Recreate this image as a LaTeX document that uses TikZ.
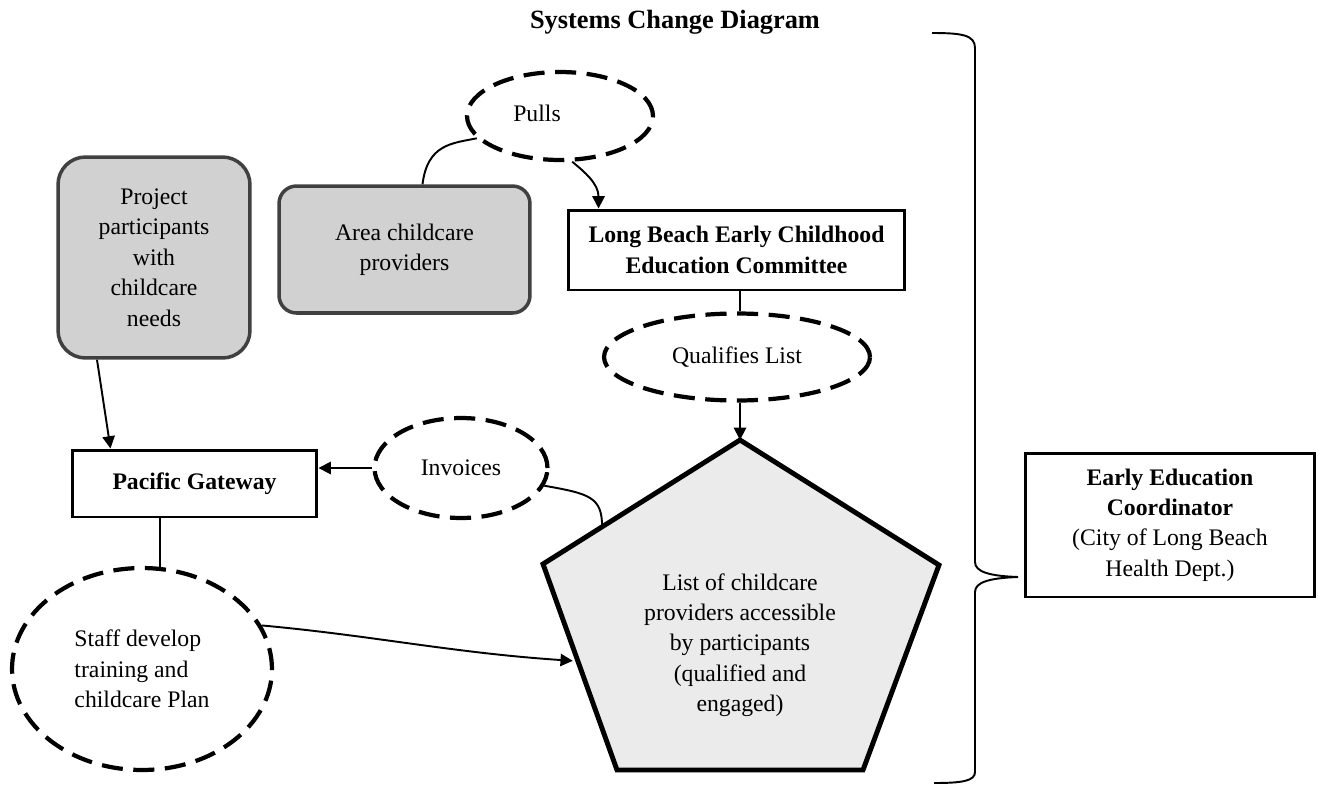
\documentclass[tikz,border=0pt]{standalone}
\usepackage{fontspec}
\setmainfont{Liberation Serif}
\usetikzlibrary{shapes.geometric,arrows.meta,calc}
\newcommand{\diagfont}{\fontsize{13.5}{17.3}\selectfont}
\tikzset{
  every node/.style={font=\diagfont},
  roundbox/.style={draw=black!75, line width=2pt, fill=black!18, rounded corners=0.5cm, align=center, inner sep=0pt},
  plainbox/.style={draw, line width=1.7pt, align=center, inner sep=0pt},
  dashoval/.style={ellipse, draw, line width=2.4pt, dash pattern=on 12pt off 6pt, inner sep=0pt},
  link/.style={line width=1.1pt},
  arrowlink/.style={link, -{Triangle[length=7pt,width=7pt]}}
}
\begin{document}
\begin{tikzpicture}[x=0.02cm, y=-0.02cm]
    \useasboundingbox (0,0) rectangle (1318,785);
    \node[font=\fontsize{15}{18}\selectfont\bfseries] (title) at (675,22) {Systems Change Diagram};

    % boxes
    \node[roundbox, rounded corners=0.55cm, minimum width=3.84cm, minimum height=4.02cm] (proj) at (154,257.5) {Project\\participants\\with\\childcare\\needs};
    \node[roundbox, rounded corners=0.35cm, minimum width=5.02cm, minimum height=2.54cm] (area) at (404.5,249.5) {Area childcare\\providers};
    \node[plainbox, font=\diagfont\bfseries, minimum width=6.74cm, minimum height=1.6cm] (lbecec) at (736.5,250) {Long Beach Early Childhood\\Education Committee};
    \node[plainbox, font=\diagfont\bfseries, minimum width=4.9cm, minimum height=1.34cm] (pg) at (194.5,483.5) {Pacific Gateway};
    \node[plainbox, minimum width=5.8cm, minimum height=2.88cm] (eec) at (1170,525) {\textbf{Early Education}\\\textbf{Coordinator}\\(City of Long Beach\\Health Dept.)};

    % dashed ovals
    \node[dashoval, minimum width=3.72cm, minimum height=1.76cm] (pulls) at (560,116) {};
    \node (pullstext) at (537,113) {Pulls};
    \node[dashoval, minimum width=5.32cm, minimum height=1.74cm] (qual) at (737,357) {Qualifies List};
    \node[dashoval, minimum width=3.46cm, minimum height=2cm] (inv) at (461,468) {Invoices};
    \node[dashoval, align=left, minimum width=5.2cm, minimum height=4.04cm] (staff) at (142,669) {Staff develop\\training and\\childcare Plan};

    % pentagon
    \coordinate (top) at (740,440);
    \coordinate (pl) at (543,564);
    \coordinate (pbl) at (617,770);
    \coordinate (pbr) at (863,770);
    \coordinate (pr) at (939,565);
    \draw[line width=2.8pt, fill=black!8] (top) -- (pr) -- (pbr) -- (pbl) -- (pl) -- cycle;
    \node[align=center] (list) at (740,645) {List of childcare\\providers accessible\\by participants\\(qualified and\\engaged)};
    \coordinate (edge) at ($(pl)!0.3!(top)$);
    \coordinate (entry) at ($(pl)!0.47!(pbl)+(-5,0)$);

    % brace
    \draw[link] (932,33) .. controls (962,33) and (975,35) .. (975,48) -- (975,562)
        .. controls (975,572) and (990,576) .. (1018,577)
        .. controls (990,578) and (975,582) .. (975,592) -- (975,772)
        .. controls (975,781) and (962,783) .. (934,783);

    % connectors
    \draw[arrowlink] ($(proj.south)+(-57,0)$) -- ($(pg.north)+(-84,0)$);
    \draw[link] ($(area.north)+(18,0)$) .. controls +(5,-40) and +(-25,5) .. (pulls.195);
    \draw[arrowlink] (pulls.285) .. controls +(12,10) and +(0,-25) .. ($(lbecec.north west)+(32,0)$);
    \draw[link] (lbecec.south -| top) -- (qual.north -| top);
    \draw[arrowlink] (qual.south -| top) -- (top);
    \draw[arrowlink] (inv.west) -- (pg.east |- inv.west);
    \draw[link] (inv.-12) .. controls +(45,8) and +(0,-30) .. (edge);
    \draw[link] (pg.south -| staff.80) -- (staff.80);
    \draw[arrowlink] (staff.20) .. controls +(110,10) and +(-120,-8) .. (entry);
\end{tikzpicture}
\end{document}
